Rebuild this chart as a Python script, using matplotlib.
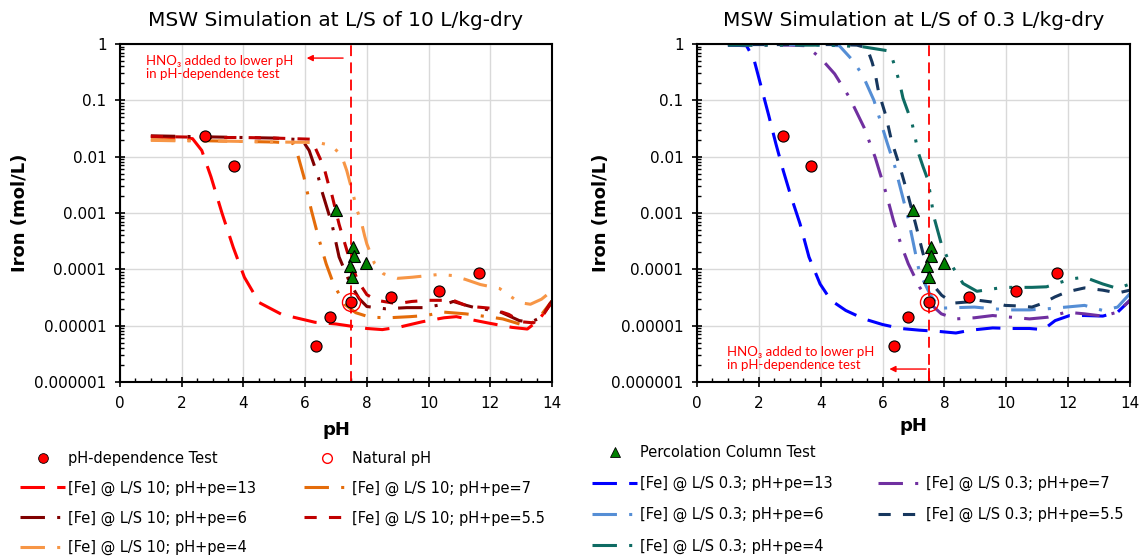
import matplotlib
matplotlib.use("Agg")
import matplotlib.pyplot as plt
import numpy as np
from matplotlib.lines import Line2D
from matplotlib.ticker import MultipleLocator, LogLocator, NullFormatter

plt.rcParams['font.family'] = ['DejaVu Sans']

# 批次试验数据（两张图共用）
test_ph = [2.77, 3.70, 6.36, 6.81, 7.49, 8.79, 10.33, 11.65]
test_fe = [0.0233, 0.0068, 4.3e-6, 1.40e-5, 2.58e-5, 3.17e-5, 4.17e-5, 8.5e-5]
natural_ph = [7.49]
natural_fe = [2.58e-5]
perc_ph = [6.99, 7.56, 7.58, 7.44, 7.97, 7.51]
perc_fe = [1.14e-3, 2.5e-4, 1.75e-4, 1.15e-4, 1.28e-4, 7.3e-5]

# 模拟曲线，log10[Fe] (mol/L)，L/S = 10
ph_10_13 = [1.0, 2.35, 2.65, 2.95, 3.31, 3.67, 4.03, 4.51, 5.24, 6.32, 7.0, 7.5, 8.0, 8.5,
            9.1, 9.8, 10.5, 10.9, 11.35, 12.0, 12.7, 13.2, 13.55, 14.0]
lg_10_13 = [-1.64, -1.68, -1.89, -2.36, -3.01, -3.61, -4.14, -4.59, -4.80, -4.94, -4.97, -5.01,
            -5.05, -5.07, -5.02, -4.93, -4.86, -4.84, -4.89, -4.96, -5.03, -5.06, -4.91, -4.59]
ph_10_7 = [1.0, 2.0, 3.0, 4.0, 5.0, 5.6, 5.72, 5.96, 6.2, 6.44, 6.68, 6.92, 7.28, 7.64, 8.1,
           8.7, 9.4, 9.9, 10.5, 11.2, 11.9, 12.4, 12.95, 13.2, 13.55, 14.0]
lg_10_7 = [-1.70, -1.71, -1.72, -1.73, -1.74, -1.76, -1.89, -2.36, -2.95, -3.45, -3.90, -4.26,
           -4.62, -4.77, -4.85, -4.86, -4.84, -4.82, -4.76, -4.79, -4.84, -4.88, -4.97, -5.0,
           -4.88, -4.56]
ph_10_6 = [1.0, 2.0, 3.0, 4.0, 5.0, 5.9, 6.13, 6.43, 6.53, 6.87, 7.1, 7.45, 7.75, 8.0, 8.6,
           9.3, 9.85, 10.6, 10.8, 11.16, 11.5, 12.3, 12.94, 13.3, 13.66, 14.0]
lg_10_6 = [-1.63, -1.64, -1.65, -1.66, -1.67, -1.70, -1.89, -2.37, -2.59, -3.2, -3.78, -4.24,
           -4.52, -4.66, -4.70, -4.68, -4.68, -4.61, -4.57, -4.63, -4.68, -4.75, -4.91, -4.94,
           -4.85, -4.56]
ph_10_55 = [1.0, 2.0, 3.0, 4.0, 5.0, 6.2, 6.49, 6.62, 6.75, 6.85, 7.1, 7.4, 7.7, 8.0, 8.32,
            8.97, 9.46, 10.0, 10.35, 10.8, 11.16, 11.4, 12.0, 12.6, 13.0, 13.4, 13.7, 14.0]
lg_10_55 = [-1.64, -1.65, -1.66, -1.66, -1.67, -1.69, -2.04, -2.21, -2.48, -2.64, -3.2, -3.75,
            -4.2, -4.45, -4.55, -4.61, -4.57, -4.55, -4.55, -4.55, -4.63, -4.66, -4.69, -4.80,
            -4.93, -4.95, -4.83, -4.55]
ph_10_4 = [1.0, 2.0, 3.0, 4.0, 5.0, 6.0, 6.5, 6.85, 7.18, 7.35, 7.57, 7.67, 7.83, 7.93, 8.0,
           8.25, 8.54, 9.0, 9.47, 10.35, 10.77, 11.2, 11.68, 12.3, 12.94, 13.3, 13.66, 14.0]
lg_10_4 = [-1.71, -1.72, -1.72, -1.73, -1.74, -1.745, -1.76, -1.80, -1.98, -2.25, -2.7, -2.93,
           -3.18, -3.41, -3.55, -3.9, -4.08, -4.16, -4.14, -4.09, -4.11, -4.18, -4.27, -4.34,
           -4.59, -4.62, -4.53, -4.38]

# 模拟曲线，L/S = 0.3
ph_03_13 = [1.0, 1.6, 1.84, 2.08, 2.32, 2.55, 2.79, 3.03, 3.33, 3.62, 3.98, 4.33, 4.81, 5.40,
            6.0, 6.59, 7.19, 7.78, 8.37, 8.85, 9.56, 10.15, 10.75, 11.2, 11.58, 12.05, 12.53,
            13.12, 13.6, 14.0]
lg_03_13 = [-0.02, -0.03, -0.27, -0.77, -1.27, -1.77, -2.25, -2.69, -3.19, -3.78, -4.26, -4.55,
            -4.73, -4.88, -4.98, -5.05, -5.08, -5.10, -5.13, -5.08, -5.04, -5.05, -5.05, -5.07,
            -4.91, -4.82, -4.82, -4.83, -4.76, -4.55]
ph_03_7 = [1.0, 2.0, 3.0, 3.5, 3.98, 4.45, 4.93, 5.40, 5.76, 6.12, 6.35, 6.59, 6.83, 7.19, 7.54,
           7.90, 8.37, 8.97, 9.56, 10.15, 10.75, 11.34, 11.94, 12.53, 13.12, 13.6, 14.0]
lg_03_7 = [-0.02, -0.02, -0.02, -0.03, -0.24, -0.53, -0.95, -1.48, -2.01, -2.66, -3.13, -3.55,
           -3.90, -4.31, -4.61, -4.79, -4.88, -4.86, -4.82, -4.85, -4.88, -4.85, -4.76, -4.79,
           -4.83, -4.76, -4.55]
ph_03_6 = [1.0, 2.0, 3.0, 4.0, 4.6, 5.05, 5.37, 5.72, 6.0, 6.14, 6.4, 6.83, 7.19, 7.54, 7.86,
           8.37, 8.97, 9.56, 10.15, 10.75, 11.34, 11.94, 12.53, 13.12, 13.6, 14.0]
lg_03_6 = [-0.01, -0.01, -0.01, -0.02, -0.03, -0.30, -0.57, -1.0, -1.49, -1.74, -2.18, -3.1,
           -4.05, -4.45, -4.69, -4.68, -4.67, -4.70, -4.72, -4.72, -4.70, -4.67, -4.64, -4.73,
           -4.67, -4.43]
ph_03_55 = [1.0, 3.0, 4.5, 5.17, 5.5, 5.66, 5.76, 5.87, 6.11, 6.29, 6.57, 6.83, 7.07, 7.3, 7.59,
            7.91, 8.28, 8.73, 9.1, 9.53, 9.96, 10.38, 10.83, 11.19, 11.57, 11.96, 12.53, 13.12,
            13.6, 14.0]
lg_03_55 = [-0.01, -0.01, -0.01, -0.02, -0.07, -0.32, -0.52, -0.85, -1.28, -1.72, -2.2, -2.7,
            -3.2, -3.7, -4.25, -4.46, -4.60, -4.58, -4.55, -4.58, -4.64, -4.65, -4.67, -4.60,
            -4.49, -4.40, -4.33, -4.37, -4.42, -4.37]
ph_03_4 = [1.0, 2.0, 3.2, 4.3, 5.37, 6.17, 6.3, 6.43, 6.56, 6.66, 6.95, 7.05, 7.15, 7.31, 7.47,
           7.66, 7.9, 8.1, 8.37, 8.6, 9.05, 9.9, 10.83, 11.3, 12.1, 12.53, 13.12, 13.6, 14.0]
lg_03_4 = [-0.02, -0.02, -0.02, -0.02, -0.05, -0.12, -0.23, -0.46, -0.71, -0.96, -1.40, -1.65,
           -1.92, -2.18, -2.42, -3.07, -3.55, -3.8, -4.05, -4.25, -4.39, -4.32, -4.32, -4.31,
           -4.17, -4.14, -4.26, -4.34, -4.26]

ytick_vals = [1e-6, 1e-5, 1e-4, 1e-3, 1e-2, 1e-1, 1]
ytick_text = ['0.000001', '0.00001', '0.0001', '0.001', '0.01', '0.1', '1']

# 线型（以线宽为单位）
LONG_DASH = [8, 4]
LONG_DASH_DOT = [8, 4, 1, 4]
DASH = [4, 4]
LONG_DASH_DOT_DOT = [8, 4, 1, 4, 1, 4]

W, H = 1147, 559
fig = plt.figure(figsize=(W / 100, H / 100), dpi=100)
ax1 = fig.add_axes([120 / W, 1 - 382 / H, 432 / W, 338 / H])
ax2 = fig.add_axes([697 / W, 1 - 382 / H, 433 / W, 338 / H])


def curve(ax, ph, lg, color, dashes, label):
    line, = ax.plot(ph, 10 ** np.array(lg), color=color, lw=2.2, dashes=dashes,
                    dash_capstyle='butt', label=label, zorder=2)
    return line


def setup(ax, title):
    ax.set_yscale('log')
    ax.set_xlim(0, 14)
    ax.set_ylim(1e-6, 1)
    ax.set_xticks(range(0, 15, 2))
    ax.xaxis.set_minor_locator(MultipleLocator(0.5))
    ax.set_yticks(ytick_vals)
    ax.set_yticklabels(ytick_text)
    ax.yaxis.set_minor_locator(LogLocator(base=10, subs=range(2, 10)))
    ax.yaxis.set_minor_formatter(NullFormatter())
    ax.tick_params(which='major', direction='inout', length=7.5, width=1.2, labelsize=11, pad=6)
    ax.tick_params(which='minor', direction='in', length=3, width=1)
    ax.grid(True, which='major', color='#D9D9D9', lw=1)
    ax.set_axisbelow(True)
    for s in ax.spines.values():
        s.set_linewidth(1.5)
        s.set_color('black')
    ax.set_title(title, fontsize=14.5, pad=13)
    ax.set_xlabel('pH', fontsize=13, fontweight='bold', va='top')
    ax.set_ylabel('Iron (mol/L)', fontsize=13, fontweight='bold')
    ax.axvline(7.5, color='#FF0000', lw=1.3, dashes=(6, 3.5), zorder=2.5)


def points(ax):
    ax.plot(test_ph, test_fe, 'o', ms=8, mfc='#FF0000', mec='black', mew=0.8, zorder=4)
    ax.plot(natural_ph, natural_fe, 'o', ms=13, mfc='none', mec='#FF0000', mew=1, zorder=4)
    ax.plot(perc_ph, perc_fe, '^', ms=9, mfc='#008000', mec='black', mew=0.8, zorder=4)


# 图例里的小号标记
leg_test = Line2D([], [], ls='none', marker='o', ms=7, mfc='#FF0000', mec='black', mew=0.6,
                  label='pH-dependence Test')
leg_nat = Line2D([], [], ls='none', marker='o', ms=7, mfc='none', mec='#FF0000', mew=1,
                 label='Natural pH')
leg_perc = Line2D([], [], ls='none', marker='^', ms=7, mfc='#008000', mec='black', mew=0.6,
                  label='Percolation Column Test')

# 左图：L/S 10
setup(ax1, 'MSW Simulation at L/S of 10 L/kg-dry')
a13 = curve(ax1, ph_10_13, lg_10_13, '#FF0000', LONG_DASH, '[Fe] @ L/S 10; pH+pe=13')
a7 = curve(ax1, ph_10_7, lg_10_7, '#E46C0A', LONG_DASH_DOT, '[Fe] @ L/S 10; pH+pe=7')
a6 = curve(ax1, ph_10_6, lg_10_6, '#800000', LONG_DASH_DOT, '[Fe] @ L/S 10; pH+pe=6')
a55 = curve(ax1, ph_10_55, lg_10_55, '#C00000', DASH, '[Fe] @ L/S 10; pH+pe=5.5')
a4 = curve(ax1, ph_10_4, lg_10_4, '#F79646', LONG_DASH_DOT_DOT, '[Fe] @ L/S 10; pH+pe=4')
points(ax1)

ax1.text(0.84, 10 ** -0.41, 'HNO\u2083 added to lower pH\nin pH-dependence test', color='#FF0000',
         fontsize=9.5, va='center', ha='left', family=['Lato', 'DejaVu Sans'], linespacing=1.1)
ax1.annotate('', xy=(5.96, 10 ** -0.25), xytext=(7.32, 10 ** -0.25),
             arrowprops=dict(arrowstyle='-|>', color='#FF0000', lw=1, mutation_scale=9))

# 右图：L/S 0.3
setup(ax2, 'MSW Simulation at L/S of 0.3 L/kg-dry')
b13 = curve(ax2, ph_03_13, lg_03_13, '#0000FF', LONG_DASH, '[Fe] @ L/S 0.3; pH+pe=13')
b7 = curve(ax2, ph_03_7, lg_03_7, '#7030A0', LONG_DASH_DOT, '[Fe] @ L/S 0.3; pH+pe=7')
b6 = curve(ax2, ph_03_6, lg_03_6, '#558ED5', LONG_DASH_DOT, '[Fe] @ L/S 0.3; pH+pe=6')
b55 = curve(ax2, ph_03_55, lg_03_55, '#17375E', DASH, '[Fe] @ L/S 0.3; pH+pe=5.5')
b4 = curve(ax2, ph_03_4, lg_03_4, '#0E6B63', LONG_DASH_DOT_DOT, '[Fe] @ L/S 0.3; pH+pe=4')
points(ax2)

ax2.text(0.97, 10 ** -5.58, 'HNO\u2083 added to lower pH\nin pH-dependence test', color='#FF0000',
         fontsize=9.5, va='center', ha='left', family=['Lato', 'DejaVu Sans'], linespacing=1.1)
ax2.plot([7.5, 7.5], [10 ** -5.77, 1e-6], color='#FF0000', lw=1.3, zorder=2.5)
ax2.annotate('', xy=(6.13, 10 ** -5.77), xytext=(7.5, 10 ** -5.77),
             arrowprops=dict(arrowstyle='-|>', color='#FF0000', lw=1, mutation_scale=9))

ax1.yaxis.set_label_coords((29 - 120) / 432, 0.5)
ax2.yaxis.set_label_coords((610 - 697) / 433, 0.5)
ax1.xaxis.set_label_coords(0.5, (382 - 421) / 338)
ax2.xaxis.set_label_coords(0.5, (382 - 417) / 338)


# 图例：每一列单独放置
def col_legend(handles, x, y, spacing):
    fig.legend(handles=handles, loc='upper left', bbox_to_anchor=(x / W, 1 - y / H),
               frameon=False, fontsize=10.5, handlelength=3.1, handletextpad=0.2,
               labelspacing=spacing, borderpad=0, borderaxespad=0, numpoints=1)


col_legend([leg_test, a13, a6, a4], 20, 451, 1.0)
col_legend([leg_nat, a7, a55], 304, 451, 1.0)
col_legend([leg_perc, b13, b6, b4], 592, 445, 1.1)
col_legend([b7, b55], 878, 476, 1.1)

fig.savefig('out.png', dpi=100)
